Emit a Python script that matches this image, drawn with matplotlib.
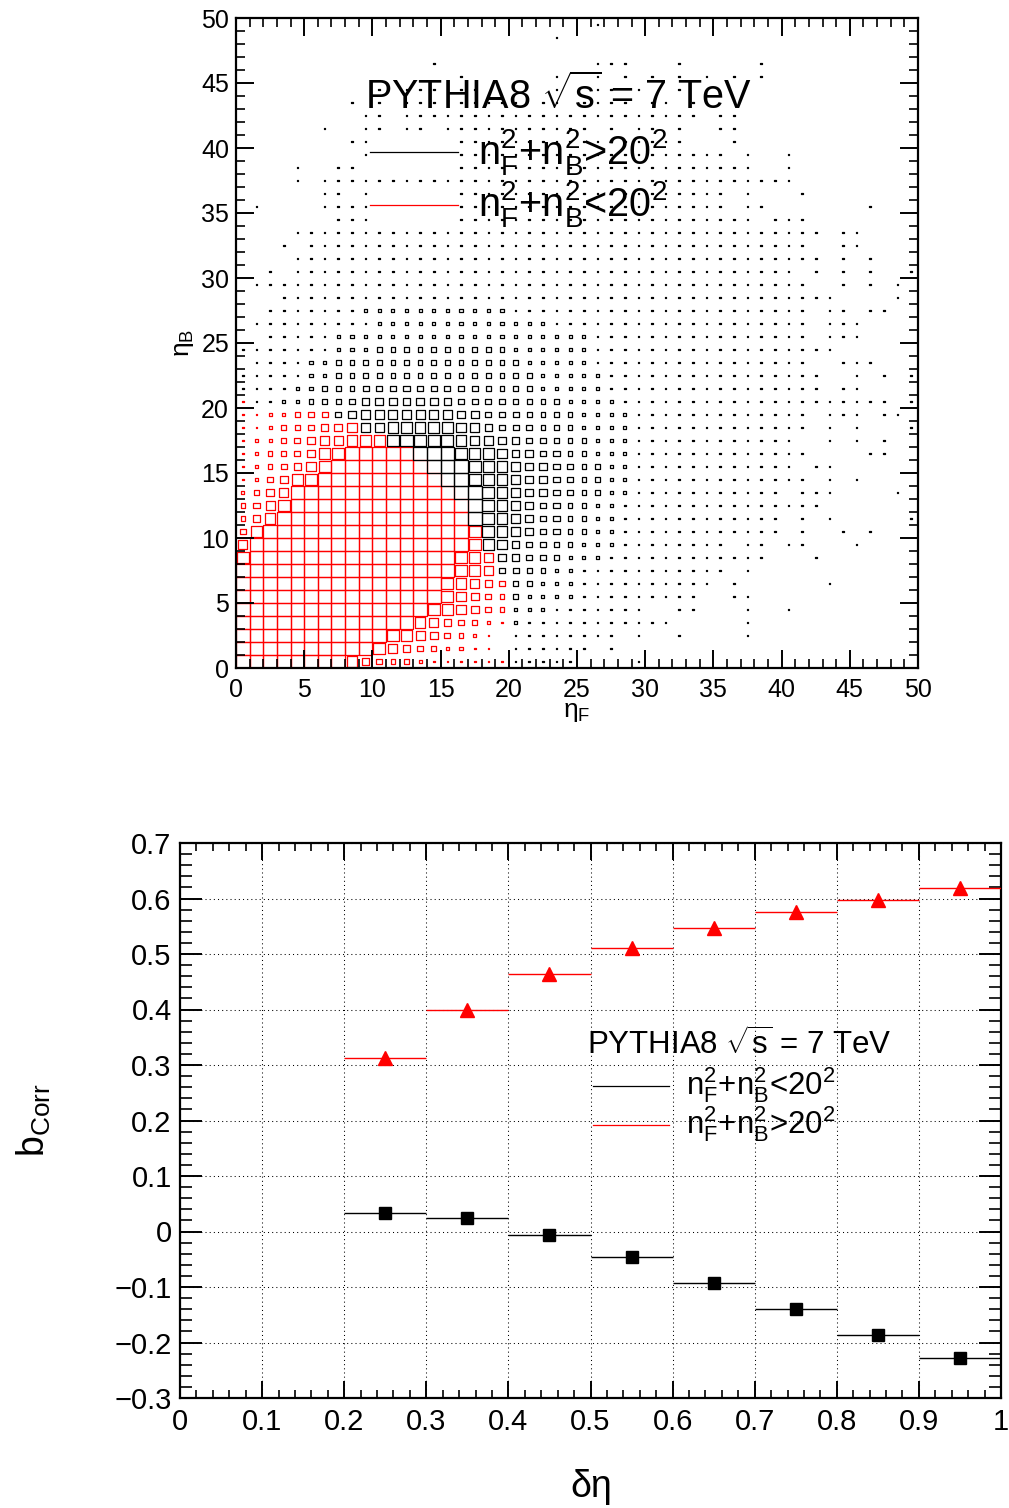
import numpy as np
import matplotlib
matplotlib.use('Agg')
import matplotlib.pyplot as plt
from matplotlib.patches import Rectangle
from matplotlib.collections import PatchCollection
from matplotlib.lines import Line2D
from matplotlib.ticker import MultipleLocator, FuncFormatter

plt.rcParams['font.family'] = ['Liberation Sans', 'DejaVu Sans']
plt.rcParams['mathtext.fontset'] = 'custom'
plt.rcParams['mathtext.rm'] = 'Liberation Sans'
plt.rcParams['mathtext.it'] = 'Liberation Sans:italic'
plt.rcParams['mathtext.bf'] = 'Liberation Sans:bold'
plt.rcParams['mathtext.default'] = 'regular'

# box size per (n_F, n_B) bin, first row is n_B = 49, last is n_B = 0
# '1'..'9' -> black histogram (n_F^2+n_B^2 > 20^2), 'a'..'i' -> red histogram
# '.' -> empty bin, blanks only split the columns in groups of ten
box_rows = [
    ".......... .......... ......1... .......... ..........",  # 49
    ".......... .......... ...1...... .......... ..........",  # 48
    ".......... .......... .......... .......... ..........",  # 47
    ".......... ....1..... ......111. ..1.....1. ..........",  # 46
    ".......... ......1... ...1..1.1. 1.1.1.1.1. ..........",  # 45
    ".......... 1.111.11.. ...1..11.1 ..1....... ..........",  # 44
    "........1. 1.111.1111 1.11.1111. 11.1...... ..........",  # 43
    ".........1 1.11111111 1111111111 1111.11... ..........",  # 42
    "......1..1 1.11.11111 111111.1.1 1.1..11... ..........",  # 41
    "........11 ......1111 1111111111 111...1... ..........",  # 40
    ".........1 ......1111 1111111111 111111.1.. 1.........",  # 39
    "....1..11. ......1111 1111111111 11111111.. 1.........",  # 38
    "....1.1111 1111111111 1111111111 1111111111 1.........",  # 37
    "......11.1 ......1111 1111111111 111111.1.. .1........",  # 36
    ".1....1111 ......1111 1111111111 111111.11. ......1...",  # 35
    ".......111 ......1111 1111111111 11111111.1 11........",  # 34
    "....111111 1111111111 1111111111 1111111111 111.11....",  # 33
    "...1.11111 1111111111 1111111111 1111111111 11..11....",  # 32
    "....111111 1111111111 1111111111 1111111111 111.1.1...",  # 31
    "..1.111111 1111111111 1111111111 1111111111 1.1.1.1..1",  # 30
    ".111111111 1111111111 1111111111 1111111111 11..1.1.1.",  # 29
    "...1111111 1111111111 1111111111 1111111111 1111....1.",  # 28
    "..11111112 2222222222 1111111111 1111111111 11.11.11..",  # 27
    ".111111111 2222222222 2221111111 1111111111 11.111....",  # 26
    "..11111222 2222222222 2222221111 1111111111 11.111....",  # 25
    "1111111222 3333333333 2222221111 1111111111 1111......",  # 24
    ".111122333 3333333333 3222221111 1111111111 11..111...",  # 23
    "1111122333 3333333333 3322222111 1111111111 111..1.1.1",  # 22
    "1111223334 4444444433 3322222111 1111111111 111.11....",  # 21
    "a112233345 5555554444 3333222211 1111111111 11111111.1",  # 20
    "aabbcdd456 6666665544 4333322221 1111111111 11.111.11.",  # 19
    "aabccdeef6 6777776654 4433322221 1111111111 11.1.1...1",  # 18
    "abbcdeffgg g888887665 5443332221 1111111111 1..1.1.1..",  # 17
    "abccdeghii iii9998776 5544332221 1111111111 11....11..",  # 16
    "abcdefhiii iiii999877 6554433221 1111111111 1.11......",  # 15
    "abdeghiiii iiiii99877 6554433221 1111111111 11.1.1....",  # 14
    "bcefiiiiii iiiiii9987 6554433221 1111111111 .111....1.",  # 13
    "cdfhiiiiii iiiiiii987 6544332211 1111111111 111.......",  # 12
    "cegiiiiiii iiiiiii987 6544332211 1111111111 .1.1.....1",  # 11
    "dgiiiiiiii iiiiiiih87 6544332211 1111111111 .1..1.1...",  # 10
    "fiiiiiiiii iiiiiiih76 5443322211 111111.11. 11...1....",  # 9
    "hiiiiiiiii iiiiiihgf5 5443222111 111111111. ..1.......",  # 8
    "iiiiiiiiii iiiiiihgf4 4332211111 111111.1.. ..........",  # 7
    "iiiiiiiiii iiiiihgfed 3322211111 11111.1... ...1......",  # 6
    "iiiiiiiiii iiiiihfedc 3222211111 1111..11.. ..........",  # 5
    "iiiiiiiiii iiiihgfedc 2221111111 ..11...1.. 1.........",  # 4
    "iiiiiiiiii iiigfedcba 2111111111 11.....1.. ..........",  # 3
    "iiiiiiiiii ihgfedcba. 11111111.1 ..1....1.. ..........",  # 2
    "iiiiiiiiii hfedcbbaa. 111111.1.. .......... ..........",  # 1
    "iiiiiiiige dccbaaaaaa 11111....1 .......... ..........",  # 0
]

# b_corr versus delta eta window
deta_lo = [0.2, 0.3, 0.4, 0.5, 0.6, 0.7, 0.8, 0.9]
deta_hi = [0.3, 0.4, 0.5, 0.6, 0.7, 0.8, 0.9, 1.0]
bcorr_small = [0.033, 0.024, -0.007, -0.046, -0.092, -0.139, -0.186, -0.228]  # n_F^2+n_B^2 < 20^2
bcorr_large = [0.313, 0.399, 0.464, 0.511, 0.547, 0.576, 0.597, 0.619]       # n_F^2+n_B^2 > 20^2

W, H = 1009, 1508


def fx(x):
    return x / W


def fy(y):
    return 1 - y / H


fig = plt.figure(figsize=(W / 100, H / 100), dpi=100)

# ---- top: 2D multiplicity histograms drawn as boxes ----
ax1 = fig.add_axes([fx(236), fy(668), 682 / W, 650 / H])
grid = [r.replace(' ', '') for r in box_rows][::-1]
black_boxes, red_boxes = [], []
for j, row in enumerate(grid):
    for i, ch in enumerate(row):
        if ch == '.':
            continue
        if ch.isdigit():
            lvl, dest = int(ch), black_boxes
        else:
            lvl, dest = ord(ch) - ord('a') + 1, red_boxes
        s = 0.01 + 0.99 * lvl / 9.0
        dest.append(Rectangle((i + 0.5 - s / 2, j + 0.5 - s / 2), s, s))

ax1.add_collection(PatchCollection(red_boxes, facecolor='none', edgecolor='red', linewidth=0.9))
ax1.add_collection(PatchCollection(black_boxes, facecolor='none', edgecolor='black', linewidth=0.9))
ax1.set_xlim(0, 50)
ax1.set_ylim(0, 50)
ax1.xaxis.set_major_locator(MultipleLocator(5))
ax1.xaxis.set_minor_locator(MultipleLocator(1))
ax1.yaxis.set_major_locator(MultipleLocator(5))
ax1.yaxis.set_minor_locator(MultipleLocator(1))
ax1.tick_params(which='both', direction='in', top=True, right=True, labelsize=18)
ax1.tick_params(which='major', length=13, width=1.4)
ax1.tick_params(which='minor', length=6.5, width=1.2)
ax1.tick_params(axis='x', pad=7)
ax1.tick_params(axis='y', pad=5)
for sp in ax1.spines.values():
    sp.set_linewidth(1.6)

fig.text(fx(184), fy(343), r'η$_{B}$', rotation=90, ha='center', va='center', fontsize=19)
fig.text(fx(577), fy(712), r'η$_{F}$', ha='center', va='center', fontsize=19)

fig.text(fx(365), fy(96), r'PYTHIA8 $\sqrt{s}$ = 7 TeV', ha='left', va='center', fontsize=28.5)
fig.add_artist(Line2D([fx(370), fx(458)], [fy(152), fy(152)], color='black', lw=0.9))
fig.add_artist(Line2D([fx(370), fx(458)], [fy(205), fy(205)], color='red', lw=0.9))
fig.text(fx(478), fy(152), r'$n_{F}^{2}$+$n_{B}^{2}$>20$^{2}$', ha='left', va='center', fontsize=28.5)
fig.text(fx(478), fy(204), r'$n_{F}^{2}$+$n_{B}^{2}$<20$^{2}$', ha='left', va='center', fontsize=28.5)

# ---- bottom: b_corr vs delta eta ----
ax2 = fig.add_axes([fx(180), fy(1398), 821 / W, 555 / H])
lo = np.array(deta_lo)
hi = np.array(deta_hi)
xc = (lo + hi) / 2
xe = (hi - lo) / 2
ax2.errorbar(xc, bcorr_small, xerr=xe, fmt='s', color='black', ms=8.5,
             elinewidth=1.0, capsize=0, zorder=3)
ax2.errorbar(xc, bcorr_large, xerr=xe, fmt='^', color='red', ms=9.5,
             elinewidth=1.0, capsize=0, zorder=3)
ax2.set_xlim(0, 1)
ax2.set_ylim(-0.3, 0.7)
ax2.xaxis.set_major_locator(MultipleLocator(0.1))
ax2.xaxis.set_minor_locator(MultipleLocator(0.02))
ax2.yaxis.set_major_locator(MultipleLocator(0.1))
ax2.yaxis.set_minor_locator(MultipleLocator(0.02))
fmt = FuncFormatter(lambda v, p: ('%g' % round(v, 2)).replace('-', '\u2212'))
ax2.xaxis.set_major_formatter(fmt)
ax2.yaxis.set_major_formatter(fmt)
ax2.grid(True, which='major', color='black', linestyle=(0, (1, 3)), linewidth=0.75)
ax2.tick_params(which='both', direction='in', top=True, right=True, labelsize=21)
ax2.tick_params(axis='x', which='major', length=12, width=1.4, pad=7)
ax2.tick_params(axis='x', which='minor', length=6, width=1.2)
ax2.tick_params(axis='y', which='major', length=16, width=1.4, pad=6)
ax2.tick_params(axis='y', which='minor', length=8.5, width=1.2)
for sp in ax2.spines.values():
    sp.set_linewidth(1.6)

fig.text(fx(34), fy(1120), r'b$_{Corr}$', rotation=90, ha='center', va='center', fontsize=27)
fig.text(fx(591), fy(1487), 'δη', ha='center', va='center', fontsize=27)

fig.text(fx(587), fy(1045), r'PYTHIA8 $\sqrt{s}$ = 7 TeV', ha='left', va='center', fontsize=22.5)
fig.add_artist(Line2D([fx(593), fx(669)], [fy(1086), fy(1086)], color='black', lw=0.9))
fig.add_artist(Line2D([fx(593), fx(669)], [fy(1125), fy(1125)], color='red', lw=0.9))
fig.text(fx(686), fy(1085), r'$n_{F}^{2}$+$n_{B}^{2}$<20$^{2}$', ha='left', va='center', fontsize=22.5)
fig.text(fx(686), fy(1124), r'$n_{F}^{2}$+$n_{B}^{2}$>20$^{2}$', ha='left', va='center', fontsize=22.5)

fig.savefig('out.png', dpi=100)
